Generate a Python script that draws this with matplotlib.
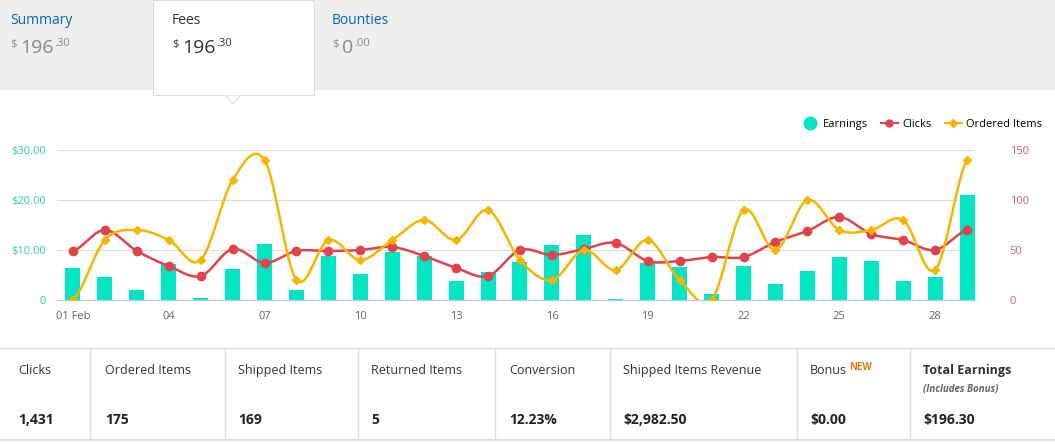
import numpy as np
import matplotlib
matplotlib.use("Agg")
import matplotlib.pyplot as plt
from matplotlib.patches import Rectangle, Polygon
from matplotlib.lines import Line2D

plt.rcParams['font.family'] = ['Open Sans', 'DejaVu Sans']

days = list(range(1, 30))
earnings = [6.5, 4.7, 2.0, 7.3, 0.5, 6.3, 11.3, 2.0, 8.9, 5.3, 9.7, 8.8, 3.9, 5.7, 7.7,
            11.0, 13.0, 0.2, 7.5, 6.7, 1.2, 6.9, 3.2, 5.9, 8.6, 7.8, 3.9, 4.6, 21.0]
clicks = [49, 70, 49, 34, 24, 51, 37, 49, 49, 50, 53, 44, 32, 24, 50,
          45, 51, 57, 39, 39, 43, 43, 58, 69, 83, 66, 60, 50, 70]
ordered = [0, 6, 7, 6, 4, 12, 14, 2, 6, 4, 6, 8, 6, 9, 4,
           2, 5, 3, 6, 2, 0, 9, 5, 10, 7, 7, 8, 3, 14]
tick_days = [1, 4, 7, 10, 13, 16, 19, 22, 25, 28]
tick_labels = ["01 Feb", "04", "07", "10", "13", "16", "19", "22", "25", "28"]

TEAL = "#00e5c3"
RED = "#e0434b"
YEL = "#f8b500"

def spline(x, y, n=20):
    x = np.asarray(x, float); y = np.asarray(y, float)
    xs, ys = [], []
    for i in range(len(x) - 1):
        p0 = y[i - 1] if i > 0 else y[i]
        p3 = y[i + 2] if i + 2 < len(y) else y[i + 1]
        p1, p2 = y[i], y[i + 1]
        t = np.linspace(0, 1, n, endpoint=False)
        ys.append(0.5 * ((2 * p1) + (-p0 + p2) * t + (2 * p0 - 5 * p1 + 4 * p2 - p3) * t**2
                         + (-p0 + 3 * p1 - 3 * p2 + p3) * t**3))
        xs.append(x[i] + t * (x[i + 1] - x[i]))
    xs.append([x[-1]]); ys.append([y[-1]])
    return np.concatenate(xs), np.concatenate(ys)

W, H = 1055, 444
fig = plt.figure(figsize=(W / 100, H / 100), dpi=100)
fig.patch.set_facecolor("white")

def fx(px): return px / W
def fy(py): return 1 - py / H

# header background
fig.patches.append(Rectangle((0, fy(90)), 1, 90 / H, transform=fig.transFigure,
                             facecolor="#efefef", edgecolor="none", zorder=0))
fig.patches.append(Rectangle((fx(153), fy(95)), 161 / W, 95 / H, transform=fig.transFigure,
                             facecolor="white", edgecolor="#dddddd", lw=0.8, zorder=1))
fig.patches.append(Polygon([(fx(225), fy(95)), (fx(241), fy(95)), (fx(233), fy(104))],
                           closed=True, transform=fig.transFigure, facecolor="white",
                           edgecolor="#dddddd", lw=0.8, zorder=2))
fig.patches.append(Rectangle((fx(224.5), fy(95.5)), 17 / W, 1.5 / H, transform=fig.transFigure,
                             facecolor="white", edgecolor="none", zorder=3))

for x0, name, col in [(10, "Summary", "#0066c0"), (172, "Fees", "#333333"),
                      (332, "Bounties", "#0066c0")]:
    fig.text(fx(x0), fy(20), name, color=col, fontsize=10, va="center", zorder=5)
for x0, big, small, c in [(10, "196", ".30", "#888888"), (172, "196", ".30", "#333333"),
                          (332, "0", ".00", "#888888")]:
    fig.text(fx(x0), fy(45), "$", color=c, fontsize=8, va="center", zorder=5)
    fig.text(fx(x0 + 10), fy(48), big, color=c, fontsize=14, va="center", zorder=5)
    fig.text(fx(x0 + 11 + 11 * len(big)), fy(43), small, color=c, fontsize=8, va="center", zorder=5)

# chart
ax = fig.add_axes([fx(57), fy(300), 918 / W, 150 / H])
ax.bar(days, earnings, width=0.47, color=TEAL, zorder=2)
ax.set_xlim(0.5, 29.25)
ax.set_ylim(0, 30)
ax.set_yticks([0, 10, 20, 30])
ax.set_yticklabels(["0", "$10.00", "$20.00", "$30.00"], color="#2ecfa8", fontsize=8)
ax.set_xticks(tick_days)
ax.set_xticklabels(tick_labels, color="#666666", fontsize=8)
ax.tick_params(length=0, pad=8)
ax.grid(axis="y", color="#dddddd", lw=0.9, zorder=0)
for s in ["top", "right", "left"]:
    ax.spines[s].set_visible(False)
ax.spines["bottom"].set_color("#b8c8e0")

ax2 = ax.twinx()
ax2.set_ylim(0, 150)
sx, sy = spline(days, clicks)
ax2.plot(sx, sy, color=RED, lw=1.8, zorder=3)
ax2.plot(days, clicks, "o", color=RED, ms=6, zorder=4)
ax2.set_yticks([0, 50, 100, 150])
ax2.tick_params(length=0, pad=25, labelcolor="#e06060", labelsize=8)
ax2.set_xlim(0.5, 29.25)

ax3 = ax.twinx()
ax3.set_ylim(0, 15)
sx, sy = spline(days, ordered)
ax3.plot(sx, sy, color=YEL, lw=1.8, zorder=3)
ax3.plot(days, ordered, "D", color=YEL, ms=4.5, zorder=4)
ax3.set_yticks([0, 5, 10, 15])
ax3.tick_params(length=0, pad=57, labelcolor="#e6a820", labelsize=8)
for a in (ax2, ax3):
    for s in a.spines.values():
        s.set_visible(False)
ax3.set_xlim(0.5, 29.25)

handles = [Line2D([], [], marker="o", color="none", markerfacecolor=TEAL, markeredgecolor=TEAL, ms=9),
           Line2D([], [], marker="o", color=RED, ms=5, lw=1.5),
           Line2D([], [], marker="D", color=YEL, ms=4, lw=1.5)]
fig.legend(handles, ["Earnings", "Clicks", "Ordered Items"], loc="center right",
           bbox_to_anchor=(fx(1052), fy(124)), ncol=3, frameon=False, fontsize=8,
           handlelength=1.5, columnspacing=1.2, handletextpad=0.4)

# bottom table
fig.add_artist(Line2D([0, 1], [fy(348), fy(348)], color="#dddddd", lw=1))
fig.add_artist(Line2D([0, 1], [fy(440), fy(440)], color="#dddddd", lw=1.5))
for xb in [90, 225, 358, 495, 610, 797, 910]:
    fig.add_artist(Line2D([fx(xb), fx(xb)], [fy(440), fy(348)], color="#dddddd", lw=1))
labels = ["Clicks", "Ordered Items", "Shipped Items", "Returned Items", "Conversion",
          "Shipped Items Revenue", "Bonus", "Total Earnings"]
values = ["1,431", "175", "169", "5", "12.23%", "$2,982.50", "$0.00", "$196.30"]
xs0 = [18, 105, 238, 371, 509, 623, 810, 923]
for x0, lab, v in zip(xs0, labels, values):
    fig.text(fx(x0), fy(370), lab, fontsize=9, color="#333333", va="center",
             fontweight="bold" if lab == "Total Earnings" else "normal")
    fig.text(fx(x0), fy(420), v, fontsize=10, color="#222222", va="center", fontweight="bold")
fig.text(fx(849), fy(368), "NEW", fontsize=7, color="#e47911", va="center", fontweight="bold")
fig.text(fx(923), fy(389), "(Includes Bonus)", fontsize=7, color="#666666", va="center",
         style="italic", fontweight="bold")

fig.savefig("out.png", dpi=100, facecolor="white")
